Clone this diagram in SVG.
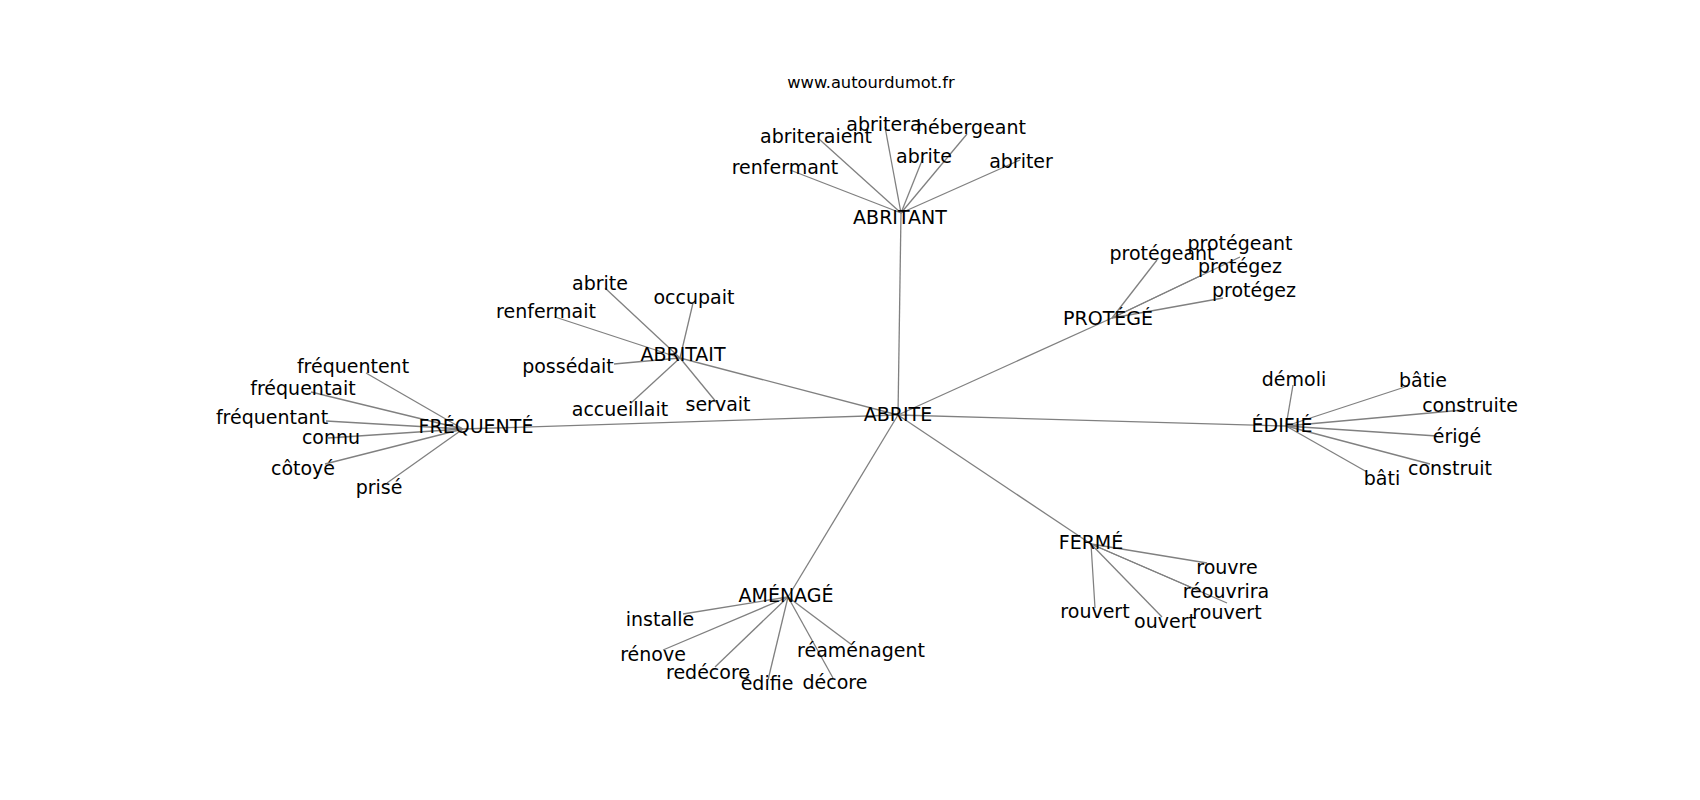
<svg xmlns="http://www.w3.org/2000/svg" width="1700" height="800" viewBox="0 0 1700 800">
<style>
text{font-family:"DejaVu Sans","Liberation Sans",sans-serif;fill:#000;text-anchor:middle}
.lbl{font-size:19px}
.title{font-size:16.3px}
#connectors line{stroke:#808080;stroke-width:1.3;fill:none}
</style>
<rect width="1700" height="800" fill="#fff"/>
<text class="title" x="871" y="88">www.autourdumot.fr</text>
<g id="connectors">
<line x1="898" y1="415" x2="901" y2="213"/>
<line x1="898" y1="415" x2="680" y2="358"/>
<line x1="898" y1="415" x2="463" y2="429"/>
<line x1="898" y1="415" x2="1112" y2="318"/>
<line x1="898" y1="415" x2="1286" y2="426"/>
<line x1="898" y1="415" x2="1091" y2="544"/>
<line x1="898" y1="415" x2="788" y2="597"/>
<line x1="901" y1="213" x2="819" y2="139"/>
<line x1="901" y1="213" x2="885" y2="127"/>
<line x1="901" y1="213" x2="967" y2="134"/>
<line x1="901" y1="213" x2="923" y2="158"/>
<line x1="901" y1="213" x2="790" y2="170"/>
<line x1="901" y1="213" x2="1020" y2="160"/>
<line x1="680" y1="358" x2="605" y2="288"/>
<line x1="680" y1="358" x2="693" y2="303"/>
<line x1="680" y1="358" x2="555" y2="317"/>
<line x1="680" y1="358" x2="614" y2="364"/>
<line x1="680" y1="358" x2="631" y2="403"/>
<line x1="680" y1="358" x2="717" y2="403"/>
<line x1="463" y1="429" x2="366" y2="373"/>
<line x1="463" y1="429" x2="311" y2="392"/>
<line x1="463" y1="429" x2="326" y2="421"/>
<line x1="463" y1="429" x2="328" y2="438"/>
<line x1="463" y1="429" x2="325" y2="464"/>
<line x1="463" y1="429" x2="387" y2="483"/>
<line x1="1112" y1="318" x2="1157" y2="260"/>
<line x1="1112" y1="318" x2="1240" y2="257"/>
<line x1="1112" y1="318" x2="1200" y2="276"/>
<line x1="1112" y1="318" x2="1223" y2="298"/>
<line x1="1286" y1="426" x2="1293" y2="385"/>
<line x1="1286" y1="426" x2="1408" y2="386"/>
<line x1="1286" y1="426" x2="1463" y2="410"/>
<line x1="1286" y1="426" x2="1437" y2="436"/>
<line x1="1286" y1="426" x2="1430" y2="464"/>
<line x1="1286" y1="426" x2="1367" y2="472"/>
<line x1="1091" y1="544" x2="1207" y2="563"/>
<line x1="1091" y1="544" x2="1195" y2="589"/>
<line x1="1091" y1="544" x2="1227" y2="603"/>
<line x1="1091" y1="544" x2="1095" y2="608"/>
<line x1="1091" y1="544" x2="1162" y2="617"/>
<line x1="788" y1="597" x2="683" y2="614"/>
<line x1="788" y1="597" x2="663" y2="650"/>
<line x1="788" y1="597" x2="715" y2="667"/>
<line x1="788" y1="597" x2="768" y2="680"/>
<line x1="788" y1="597" x2="833" y2="678"/>
<line x1="788" y1="597" x2="852" y2="645"/>
</g>
<g id="n-abrite"><text class="lbl" x="898" y="421">ABRITE</text></g>
<g id="n-abritant"><text class="lbl" x="900" y="224">ABRITANT</text></g>
<g id="n-abritait"><text class="lbl" x="683" y="361">ABRITAIT</text></g>
<g id="n-frequente"><text class="lbl" x="476" y="433">FRÉQUENTÉ</text></g>
<g id="n-protege"><text class="lbl" x="1108" y="325">PROTÉGÉ</text></g>
<g id="n-edifie"><text class="lbl" x="1282" y="432">ÉDIFIÉ</text></g>
<g id="n-ferme"><text class="lbl" x="1091" y="549">FERMÉ</text></g>
<g id="n-amenage"><text class="lbl" x="786" y="602">AMÉNAGÉ</text></g>

<g id="n-abriteraient"><text class="lbl" x="816" y="143">abriteraient</text></g>
<g id="n-abritera"><text class="lbl" x="884" y="131">abritera</text></g>
<g id="n-hebergeant"><text class="lbl" x="971" y="134">hébergeant</text></g>
<g id="n-abrite-1"><text class="lbl" x="924" y="163">abrite</text></g>
<g id="n-renfermant"><text class="lbl" x="785" y="174">renfermant</text></g>
<g id="n-abriter"><text class="lbl" x="1021" y="168">abriter</text></g>

<g id="n-abrite-2"><text class="lbl" x="600" y="290">abrite</text></g>
<g id="n-occupait"><text class="lbl" x="694" y="304">occupait</text></g>
<g id="n-renfermait"><text class="lbl" x="546" y="318">renfermait</text></g>
<g id="n-possedait"><text class="lbl" x="568" y="373">possédait</text></g>
<g id="n-accueillait"><text class="lbl" x="620" y="416">accueillait</text></g>
<g id="n-servait"><text class="lbl" x="718" y="411">servait</text></g>

<g id="n-frequentent"><text class="lbl" x="353" y="373">fréquentent</text></g>
<g id="n-frequentait"><text class="lbl" x="303" y="395">fréquentait</text></g>
<g id="n-frequentant"><text class="lbl" x="272" y="424">fréquentant</text></g>
<g id="n-connu"><text class="lbl" x="331" y="444">connu</text></g>
<g id="n-cotoye"><text class="lbl" x="303" y="475">côtoyé</text></g>
<g id="n-prise"><text class="lbl" x="379" y="494">prisé</text></g>

<g id="n-protegeant-1"><text class="lbl" x="1162" y="260">protégeant</text></g>
<g id="n-protegeant-2"><text class="lbl" x="1240" y="250">protégeant</text></g>
<g id="n-protegez-1"><text class="lbl" x="1240" y="273">protégez</text></g>
<g id="n-protegez-2"><text class="lbl" x="1254" y="297">protégez</text></g>

<g id="n-demoli"><text class="lbl" x="1294" y="386">démoli</text></g>
<g id="n-batie"><text class="lbl" x="1423" y="387">bâtie</text></g>
<g id="n-construite"><text class="lbl" x="1470" y="412">construite</text></g>
<g id="n-erige"><text class="lbl" x="1457" y="443">érigé</text></g>
<g id="n-construit"><text class="lbl" x="1450" y="475">construit</text></g>
<g id="n-bati"><text class="lbl" x="1382" y="485">bâti</text></g>

<g id="n-rouvre"><text class="lbl" x="1227" y="574">rouvre</text></g>
<g id="n-reouvrira"><text class="lbl" x="1226" y="598">réouvrira</text></g>
<g id="n-rouvert-2"><text class="lbl" x="1227" y="619">rouvert</text></g>
<g id="n-rouvert-1"><text class="lbl" x="1095" y="618">rouvert</text></g>
<g id="n-ouvert"><text class="lbl" x="1165" y="628">ouvert</text></g>

<g id="n-installe"><text class="lbl" x="660" y="626">installe</text></g>
<g id="n-renove"><text class="lbl" x="653" y="661">rénove</text></g>
<g id="n-redecore"><text class="lbl" x="708" y="679">redécore</text></g>
<g id="n-edifie-2"><text class="lbl" x="767" y="690">édifie</text></g>
<g id="n-decore"><text class="lbl" x="835" y="689">décore</text></g>
<g id="n-reamenagent"><text class="lbl" x="861" y="657">réaménagent</text></g>
</svg>
